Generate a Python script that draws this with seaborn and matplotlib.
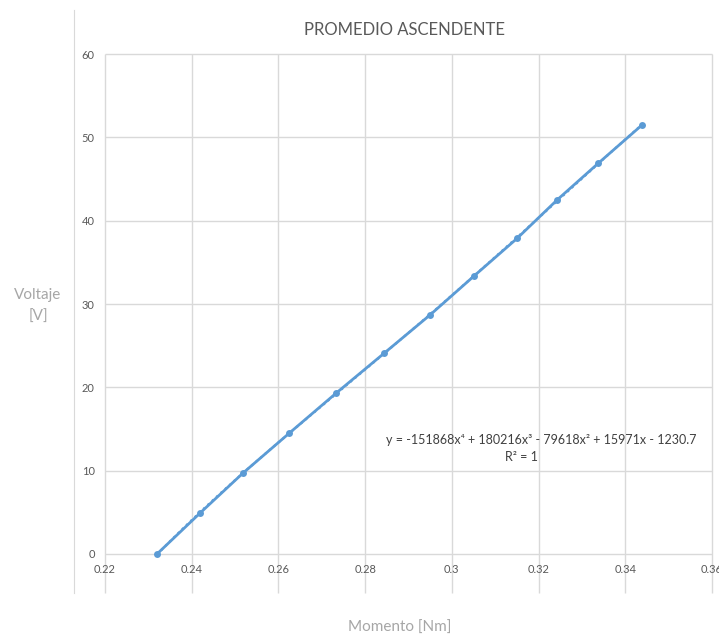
import matplotlib
matplotlib.use("Agg")
import matplotlib.pyplot as plt
import seaborn as sns
import numpy as np
import pandas as pd

# valores
momento = [0.2320, 0.2419, 0.2518, 0.2625, 0.2733, 0.2844, 0.2950,
           0.3052, 0.3151, 0.3243, 0.3338, 0.3439]
voltaje = [0.0, 4.9, 9.7, 14.5, 19.3, 24.1, 28.7, 33.4, 37.9, 42.5, 46.9, 51.5]

x_ticks = [0.22, 0.24, 0.26, 0.28, 0.30, 0.32, 0.34, 0.36]
x_labels = ["0.22", "0.24", "0.26", "0.28", "0.3", "0.32", "0.34", "0.36"]
y_ticks = [0, 10, 20, 30, 40, 50, 60]

df = pd.DataFrame({"Momento": momento, "Voltaje": voltaje})

sns.set_style("white")
plt.rcParams["font.family"] = ["Lato", "DejaVu Sans"]

azul = "#5b9bd5"
gris_grid = "#d9d9d9"
gris_txt = "#595959"

fig = plt.figure(figsize=(7.19, 6.38), dpi=100)
ax = fig.add_axes([74 / 719, 1 - 593 / 638, (712 - 74) / 719, (593 - 10) / 638])
ax.set_xlim(0.21285, 0.36)
ax.set_ylim(-4.68, 65.28)

# cuadricula estilo excel
ax.vlines(x_ticks, -4.68, 60, color=gris_grid, lw=1, zorder=0, clip_on=False)
ax.hlines(y_ticks, 0.22, 0.36, color=gris_grid, lw=1, zorder=0, clip_on=False)

# serie
sns.lineplot(data=df, x="Momento", y="Voltaje", ax=ax, color=azul, lw=2,
             marker="o", markersize=5, markeredgewidth=0, sort=False, zorder=3)

# linea de tendencia polinomica grado 4
coef = np.polyfit(momento, voltaje, 4)
xt = np.linspace(min(momento), max(momento), 200)
ax.plot(xt, np.polyval(coef, xt), color=azul, lw=1.6, ls=":", zorder=2)

ax.set_xticks(x_ticks)
ax.set_xticklabels(x_labels)
ax.set_yticks(y_ticks)
ax.tick_params(axis="both", length=0, labelsize=8, labelcolor=gris_txt)
ax.tick_params(axis="x", pad=-21)
ax.tick_params(axis="y", pad=-15)
ax.set_xlabel("")
ax.set_ylabel("")

for s in ["top", "right", "bottom"]:
    ax.spines[s].set_visible(False)
ax.spines["left"].set_color(gris_grid)

fig.text(404 / 719, 1 - 30 / 638, "PROMEDIO ASCENDENTE", ha="center", va="center",
         fontsize=12, color=gris_txt)
fig.text(38 / 719, 1 - 306 / 638, "Voltaje\n[V]", ha="center", va="center",
         fontsize=11, color="#a6a6a6", linespacing=1.7)
fig.text(400 / 719, 1 - 628 / 638, "Momento [Nm]", ha="center", va="center",
         fontsize=11, color="#a6a6a6")

fig.text(541 / 719, 1 - 440 / 638,
         "y = -151868x\u2074 + 180216x\u00b3 - 79618x\u00b2 + 15971x - 1230.7",
         ha="center", va="center", fontsize=9, color="#404040")
fig.text(521 / 719, 1 - 457 / 638, "R\u00b2 = 1", ha="center", va="center",
         fontsize=9, color="#404040")

fig.savefig("out.png", dpi=100)
